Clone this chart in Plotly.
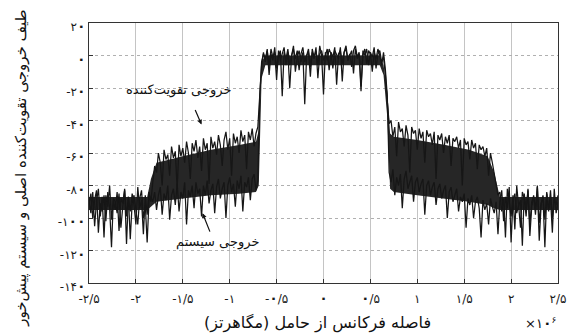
import numpy as np
import plotly.graph_objects as go

# ---------------- data (dB) ----------------
# amplifier output (main amplifier)
amp_left_floor = [-88,-97,-84,-105,-90,-82,-99,-87,-112,-86,-93,-80,-101,-89,-95,-84,-108,-88,-91,-83,
                  -116,-87,-96,-85,-92,-104,-81,-94,-89,-110,-86,-98,-84,-90]
amp_left_shoulder = [-78,-68,-72,-60,-66,-80,-58,-64,-61,-74,-56,-63,-59,-82,-55,-62,-57,-66,-53,-60,
                     -76,-54,-59,-52,-63,-56,-71,-51,-58,-54,-79,-50,-57,-53,-61,-49,-55,-68,-52,-47,
                     -58,-51,-74,-48,-54,-50,-60,-46,-53,-49,-70,-47,-52,-45,-56,-48,-44]
amp_band = [-22,-6,2,-4,4,-12,1,-3,5,-8,0,3,-25,2,-2,4,-6,1,6,-10,-1,3,-4,2,-30,0,4,-7,2,-2,5,-14,1,3,
            -3,0,4,-9,2,-1,5,-18,1,3,-5,2,6,-3,0,3,-11,4,-2,1,-22,3,0,4,-6,2,-1,5,-8,1,3,-4,-1,-12,-28]
amp_right_shoulder = [-42,-40,-50,-44,-62,-41,-47,-45,-56,-43,-49,-72,-44,-48,-46,-58,-45,-51,-47,-66,
                      -46,-50,-48,-55,-47,-76,-49,-52,-48,-60,-50,-54,-49,-68,-51,-53,-50,-57,-52,-80,
                      -51,-55,-53,-64,-52,-57,-54,-70,-55,-58,-56,-62,-57,-74,-60,-66,-72,-80,-86]
amp_right_floor = [-84,-96,-88,-112,-82,-91,-99,-86,-107,-80,-93,-89,-117,-85,-95,-83,-104,-90,-87,-98,
                   -81,-114,-92,-86,-101,-84,-95,-88,-109,-82,-97,-90]

# feed-forward system output
sys_left_floor = [-92,-85,-100,-89,-83,-109,-91,-96,-86,-102,-84,-94,-118,-88,-90,-97,-85,-106,-93,-82,
                  -99,-87,-113,-91,-86,-95,-104,-88,-83,-100,-92,-115,-89,-87]
sys_left_shoulder = [-90,-84,-95,-86,-81,-98,-85,-89,-80,-101,-86,-82,-92,-79,-96,-84,-88,-78,-104,-83,
                     -87,-80,-94,-78,-85,-82,-99,-80,-86,-77,-91,-83,-79,-97,-81,-76,-88,-82,-78,-100,
                     -80,-75,-84,-79,-93,-77,-82,-74,-96,-78,-81,-75,-89,-76,-73,-83,-77]
sys_band = [-26,-4,1,-2,3,-7,4,-1,2,-15,3,-3,1,5,-6,2,-20,0,4,-2,3,-9,1,5,-4,0,2,-13,4,-1,3,-6,6,0,
            -24,2,-3,4,1,-8,3,0,-2,5,-16,2,4,-3,1,-7,3,6,-1,2,-19,0,4,-5,3,1,-10,2,-2,4,0,-6,2,-9,-25]
sys_right_shoulder = [-72,-78,-70,-86,-75,-80,-73,-94,-76,-71,-82,-77,-74,-90,-78,-75,-84,-79,-76,-98,
                      -80,-77,-86,-81,-78,-92,-82,-79,-88,-83,-80,-100,-84,-81,-90,-86,-82,-96,-87,-90,
                      -85,-106,-88,-92,-86,-100,-90,-87,-94,-112,-89,-95,-91,-104,-88,-93,-97,-90,-110]
sys_right_floor = [-90,-83,-102,-87,-94,-81,-115,-89,-85,-97,-92,-106,-84,-88,-99,-82,-111,-93,-86,-95,
                   -80,-103,-91,-87,-118,-85,-96,-83,-100,-89,-92,-86]

# dense (solid-looking) core of the overlapping traces
core_freq = [-2.5, -1.88, -1.84, -1.78, -1.5, -1.2, -0.9, -0.72, -0.69, -0.66, -0.62, 0.0,
             0.60, 0.64, 0.68, 0.71, 0.75, 1.0, 1.3, 1.55, 1.75, 1.82, 1.88, 2.5]
core_hi = [-87, -87, -76, -66, -62, -58, -55, -53, -46, -4, 0, 0,
           0, -6, -22, -48, -50, -52, -55, -58, -62, -72, -87, -87]
core_lo = [-95, -95, -93, -90, -88, -86, -85, -84, -80, -14, -6, -6,
           -6, -12, -38, -82, -84, -86, -88, -90, -92, -94, -95, -95]

x_tick_vals = [-2.5, -2, -1.5, -1, -0.5, 0, 0.5, 1, 1.5, 2, 2.5]
x_tick_text = ['-۲/۵', '-۲', '-۱/۵', '-۱', '-۰/۵', '۰', '۰/۵', '۱', '۱/۵', '۲', '۲/۵']
y_tick_vals = [20, 0, -20, -40, -60, -80, -100, -120, -140]
y_tick_text = ['۲۰', '۰', '-۲۰', '-۴۰', '-۶۰', '-۸۰', '-۱۰۰', '-۱۲۰', '-۱۴۰']

amp = amp_left_floor + amp_left_shoulder + amp_band + amp_right_shoulder + amp_right_floor
sysout = sys_left_floor + sys_left_shoulder + sys_band + sys_right_shoulder + sys_right_floor
f_amp = np.linspace(-2.5, 2.5, len(amp))      # frequency bins (MHz)
f_sys = np.linspace(-2.5, 2.5, len(sysout))

FONT = "DejaVu Sans"
ZERO = '<span style="font-size:14px;font-weight:bold">۰</span>'

def fa(s):
    # make the Persian zero visible (DejaVu draws it as a tiny dot)
    return s.replace('۰', ZERO)

fig = go.Figure()
fig.add_trace(go.Scatter(x=core_freq, y=core_lo, mode='lines', line=dict(width=0),
                         showlegend=False, hoverinfo='skip'))
fig.add_trace(go.Scatter(x=core_freq, y=core_hi, mode='lines', line=dict(width=0),
                         fill='tonexty', fillcolor='#262626', showlegend=False, hoverinfo='skip'))
fig.add_trace(go.Scatter(x=f_sys, y=sysout, mode='lines',
                         line=dict(color='#161616', width=1.25), showlegend=False))
fig.add_trace(go.Scatter(x=f_amp, y=amp, mode='lines',
                         line=dict(color='#161616', width=1.25), showlegend=False))

axis_common = dict(showline=True, linecolor='#333333', linewidth=1, mirror=True,
                   ticks='inside', ticklen=4, tickcolor='#333333',
                   showgrid=True, gridwidth=1, zeroline=False,
                   tickfont=dict(family=FONT, size=12, color='#1a1a1a'))

fig.update_xaxes(range=[-2.5, 2.5], tickvals=x_tick_vals, ticktext=[fa(t) for t in x_tick_text],
                 gridcolor='#c4c4c4', griddash='solid', ticklabelstandoff=5, **axis_common)
fig.update_yaxes(range=[-140, 20], tickvals=y_tick_vals, ticktext=[fa(t) for t in y_tick_text],
                 gridcolor='#b0b0b0', griddash='dot', ticklabelshift=4, **axis_common)

L, R, T, B = 89, 15, 23, 53
W, H = 578, 336
pw, ph = W - L - R, H - T - B
def px2paper(px, py):
    return (px - L) / pw, (H - B - py) / ph

fig.add_annotation(text='خروجی تقویت‌کننده', x=-1.55, y=-21.5, xref='x', yref='y',
                   showarrow=False, font=dict(family=FONT, size=13, color='#111111'))
fig.add_annotation(text='', x=-1.3, y=-42.5, xref='x', yref='y', showarrow=True,
                   ax=-7, ay=-16, arrowhead=2, arrowsize=0.8, arrowwidth=1.2, arrowcolor='#111111')
fig.add_annotation(text='خروجی سیستم', x=-1.135, y=-115, xref='x', yref='y',
                   showarrow=False, font=dict(family=FONT, size=13, color='#111111'))
fig.add_annotation(text='', x=-1.29, y=-97, xref='x', yref='y', showarrow=True,
                   ax=8, ay=20, arrowhead=2, arrowsize=0.8, arrowwidth=1.2, arrowcolor='#111111')

xx, yy = px2paper(320, 323)
fig.add_annotation(text='فاصله فرکانس از حامل (مگاهرتز)', x=xx, y=yy,
                   xref='paper', yref='paper', showarrow=False,
                   xanchor='center', yanchor='middle',
                   font=dict(family=FONT, size=16, color='#111111'))
xx, yy = px2paper(20, 168)
fig.add_annotation(text='طیف خروجی تقویت‌کننده اصلی و سیستم پیش‌خور', x=xx, y=yy,
                   xref='paper', yref='paper', showarrow=False, textangle=-90,
                   xanchor='center', yanchor='middle',
                   font=dict(family=FONT, size=15, color='#111111'))
xx, yy = px2paper(545, 323)
fig.add_annotation(text='×۱' + ZERO + '<sup>۶</sup>', x=xx, y=yy,
                   xref='paper', yref='paper', showarrow=False,
                   xanchor='center', yanchor='middle',
                   font=dict(family=FONT, size=13, color='#111111'))

fig.update_layout(width=W, height=H, margin=dict(l=L, r=R, t=T, b=B),
                  plot_bgcolor='white', paper_bgcolor='white',
                  font=dict(family=FONT, color='#111111'))

fig.write_html("out.html", config={'displayModeBar': False},
               post_script="document.body.style.margin='0';document.body.style.overflow='hidden';")
